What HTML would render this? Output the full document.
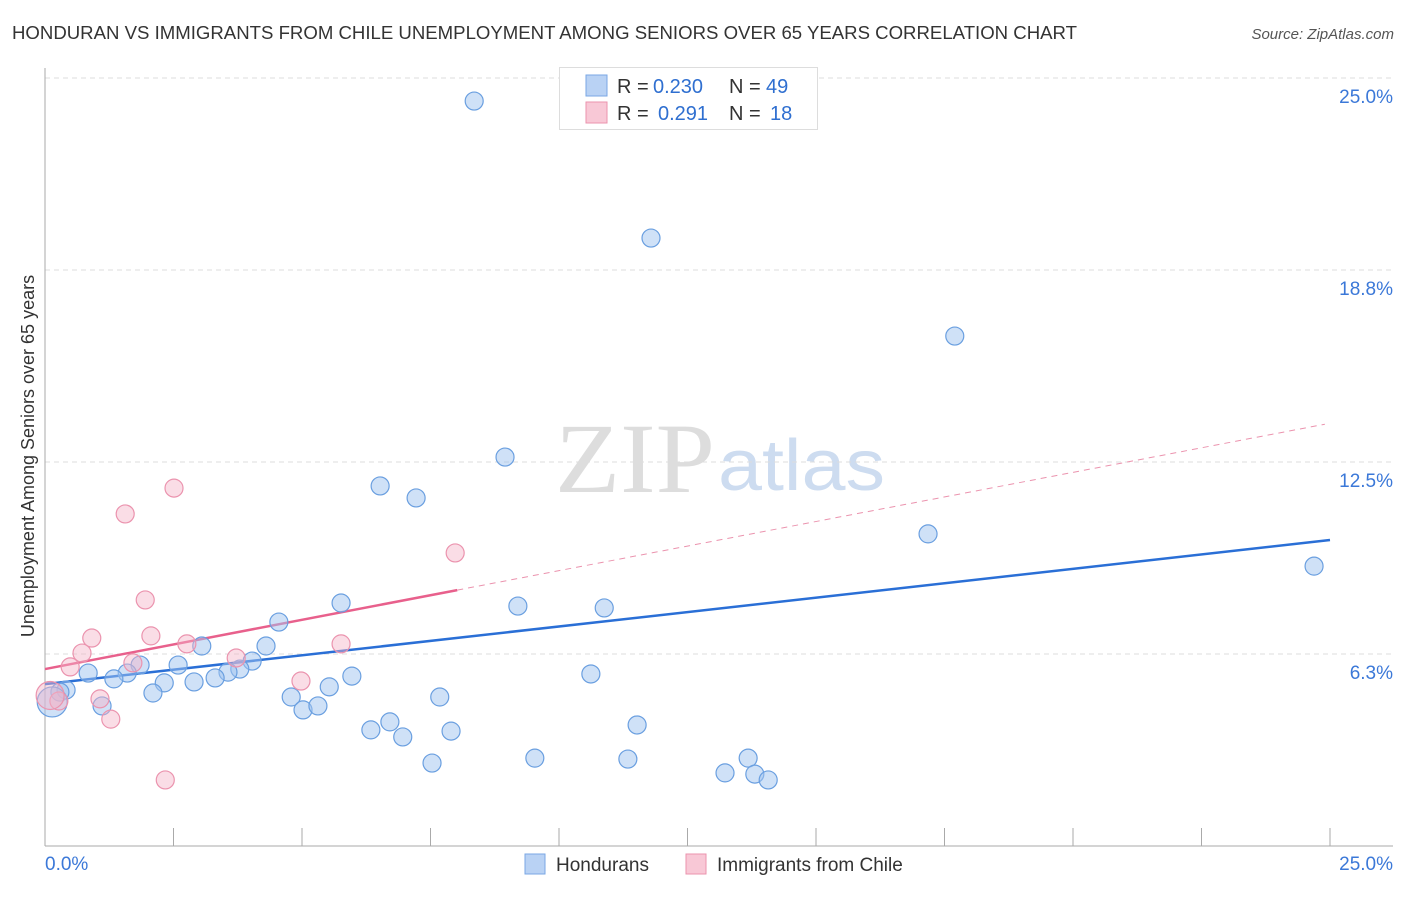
<!DOCTYPE html>
<html><head><meta charset="utf-8"><style>
body{margin:0;background:#fff;font-family:"Liberation Sans",sans-serif}
svg text{font-family:"Liberation Sans",sans-serif}
</style></head><body>
<svg id="chart" width="1406" height="892">
<text x="12" y="39" font-size="18" fill="#333" textLength="1065" lengthAdjust="spacingAndGlyphs">HONDURAN VS IMMIGRANTS FROM CHILE UNEMPLOYMENT AMONG SENIORS OVER 65 YEARS CORRELATION CHART</text>
<text x="1394" y="39" font-size="15" fill="#555" font-style="italic" text-anchor="end">Source: ZipAtlas.com</text>
<text x="34" y="456" font-size="18" fill="#333" text-anchor="middle" transform="rotate(-90 34 456)">Unemployment Among Seniors over 65 years</text>
<text x="555" y="492" font-size="100" fill="#ddd" textLength="160" lengthAdjust="spacingAndGlyphs" style="font-family:'Liberation Serif',serif">ZIP</text>
<text x="718" y="490" font-size="72" fill="#cddcf0" textLength="167" lengthAdjust="spacingAndGlyphs">atlas</text>
<g id="grid"></g><g id="axes"></g><g id="lines"></g><g id="pts"></g>
<g>
<rect x="559.5" y="67.5" width="258" height="62" fill="#fff" stroke="#ddd"/>
<rect x="586" y="75" width="21" height="21" fill="#b9d2f4" stroke="#7aa7e4"/>
<rect x="586" y="102" width="21" height="21" fill="#f8c8d6" stroke="#eb93ae"/>
<text x="617" y="93" font-size="20" fill="#333">R =</text>
<text x="653" y="93" font-size="20" fill="#2f6fd0">0.230</text>
<text x="729" y="93" font-size="20" fill="#333">N =</text>
<text x="766" y="93" font-size="20" fill="#2f6fd0">49</text>
<text x="617" y="120" font-size="20" fill="#333">R =</text>
<text x="658" y="120" font-size="20" fill="#2f6fd0">0.291</text>
<text x="729" y="120" font-size="20" fill="#333">N =</text>
<text x="770" y="120" font-size="20" fill="#2f6fd0">18</text>
</g>
<g>
<rect x="525" y="854" width="20" height="20" fill="#b9d2f4" stroke="#7aa7e4"/>
<text x="556" y="871" font-size="19" fill="#333">Hondurans</text>
<rect x="686" y="854" width="20" height="20" fill="#f8c8d6" stroke="#eb93ae"/>
<text x="717" y="871" font-size="19" fill="#333">Immigrants from Chile</text>
</g>
</svg>
<script>
const blueX=[8.35,11.79,17.70,8.95,6.52,7.22,17.18,24.69,9.20,10.88,5.76,4.55,4.30,3.05,4.03,3.79,3.56,3.31,2.90,2.32,2.59,1.85,1.60,1.34,0.84,0.41,2.10,1.11,4.79,5.02,5.31,5.53,5.97,7.68,10.62,6.34,6.71,6.96,7.90,11.52,7.53,9.53,11.34,13.68,13.23,13.81,14.07,0.29,0.14];
const blueY=[24.25,19.79,16.60,12.66,11.72,11.33,10.16,9.11,7.81,7.75,7.91,7.29,6.51,6.51,6.02,5.76,5.66,5.47,5.34,5.31,5.89,5.89,5.63,5.44,5.63,5.08,4.98,4.56,4.85,4.43,4.56,5.18,5.53,4.85,5.60,3.78,4.04,3.55,3.74,3.94,2.70,2.86,2.83,2.86,2.38,2.34,2.15,5.01,4.69];
const pinkX=[2.51,1.56,7.98,1.95,2.06,0.91,0.72,2.76,5.76,0.49,1.71,3.72,4.98,1.07,1.28,2.34,0.27,0.10];
const pinkY=[11.65,10.81,9.54,8.01,6.84,6.77,6.28,6.58,6.58,5.83,5.96,6.12,5.37,4.79,4.13,2.15,4.72,4.90];
const blueTrend=[[0,5.27],[25,9.96]];
const pinkTrend=[[0,5.76],[8.02,8.33],[24.9,13.73]];
const yTicks=[25,18.75,12.5,6.25];
const yTickLabels=["25.0%","18.8%","12.5%","6.3%"];
const xTicks=[0,2.5,5,7.5,10,12.5,15,17.5,20,22.5,25];
const NS="http://www.w3.org/2000/svg";
const sx=v=>45+v/25*1285, sy=v=>846-v/25*768;
function mk(p,t,a){const e=document.createElementNS(NS,t);for(const k in a)e.setAttribute(k,a[k]);document.getElementById(p).appendChild(e);return e;}
yTicks.forEach((t,i)=>{
 const l=mk('grid','line',{x1:45,x2:1393,y1:sy(t),y2:sy(t),stroke:'#ddd','stroke-dasharray':'5,4'});
 
 
 const tx=mk('grid','text',{x:1393,y:sy(t)+25,'font-size':19,fill:'#3b78d8','text-anchor':'end'});
 tx.textContent=yTickLabels[i];
 
 
});
let a=mk('axes','line',{x1:45,x2:45,y1:68,y2:846,stroke:'#aaa'});


a=mk('axes','line',{x1:45,x2:1393,y1:846,y2:846,stroke:'#aaa'});


xTicks.forEach(t=>{const l=mk('axes','line',{x1:sx(t),x2:sx(t),y1:828,y2:846,stroke:'#aaa'});
 
 });
let t1=mk('axes','text',{x:45,y:870,'font-size':19,fill:'#3b78d8'});t1.textContent='0.0%';


t1=mk('axes','text',{x:1393,y:870,'font-size':19,fill:'#3b78d8','text-anchor':'end'});t1.textContent='25.0%';


function dot(x,y,r,f,s){const c=mk('pts','circle',{cx:sx(x),cy:sy(y),r:r,fill:f,stroke:s,'stroke-width':1.2});return c;}
blueX.forEach((x,i)=>{const c=dot(x,blueY[i],i==blueX.length-1?15:9,'rgba(160,195,240,0.5)','#6a9fe0');
 
 });
pinkX.forEach((x,i)=>{const c=dot(x,pinkY[i],i==pinkX.length-1?14:9,'rgba(245,180,200,0.45)','#eb93ae');
 
 });
let ln=mk('lines','line',{x1:sx(blueTrend[0][0]),y1:sy(blueTrend[0][1]),x2:sx(blueTrend[1][0]),y2:sy(blueTrend[1][1]),stroke:'#2a6fd6','stroke-width':2.5});


ln=mk('lines','line',{x1:sx(pinkTrend[0][0]),y1:sy(pinkTrend[0][1]),x2:sx(pinkTrend[1][0]),y2:sy(pinkTrend[1][1]),stroke:'#e8608c','stroke-width':2.5});


ln=mk('lines','line',{x1:sx(pinkTrend[1][0]),y1:sy(pinkTrend[1][1]),x2:sx(pinkTrend[2][0]),y2:sy(pinkTrend[2][1]),stroke:'#eb93ae','stroke-width':1,'stroke-dasharray':'6,5'});


</script>
</body></html>
